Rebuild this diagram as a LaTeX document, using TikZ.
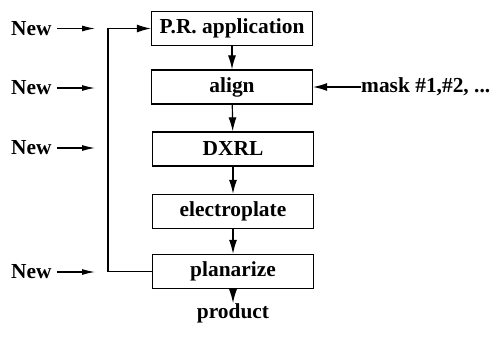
\documentclass[tikz,border=0pt]{standalone}
\usepackage{fontspec}
\setmainfont{Liberation Serif}
\usetikzlibrary{arrows.meta}
\begin{document}
\begin{tikzpicture}[x=1pt,y=-1pt,
  every node/.style={font=\fontsize{21.4}{24}\selectfont\bfseries},
  stepbox/.style={draw,line width=1.3pt,minimum width=161pt,minimum height=34pt,inner sep=0pt},
  flow/.style={line width=1.2pt,-{Latex[length=14pt,width=8pt]}},
  newarr/.style={line width=1.1pt,-{Latex[length=13pt,width=6pt]}},
  lbl/.style={inner sep=0pt,anchor=base west}]
\useasboundingbox (0,0) rectangle (493,338);
\node[stepbox] (pr) at (232,28.5) {P.R. application};
\node[stepbox] (al) at (232,87) {align};
\node[stepbox] (dx) at (233,149) {DXRL};
\node[stepbox] (el) at (233,211.5) {electroplate};
\node[stepbox] (pl) at (233,271.5) {planarize};
\node[inner sep=0pt] (prod) at (233,313) {product};
\draw[flow] (pr) -- (al);
\draw[flow] (al) -- (dx);
\draw[flow] (dx) -- (el);
\draw[flow] (el) -- (pl);
\draw[flow] (pl) -- (prod);
% feedback loop
\coordinate (fb1) at (108,271.5);
\coordinate (fb2) at (108,28.5);
\draw[flow] (pl.west) -- (fb1) -- (fb2) -- (pr.west);
% mask
\node[lbl,anchor=west] (mask) at (361,87) {mask \#1,\#2, ...};
\draw[flow] (mask.west) -- (al.east);
% New labels
\foreach \n/\y in {n1/28.5,n2/88,n3/148,n4/272}{
  \node[inner sep=0pt,anchor=west] (\n) at (11,\y) {New};
  \coordinate (\n a) at (95,\y);
  \draw[newarr] ([xshift=5pt]\n.east) -- (\n a);
}
\end{tikzpicture}
\end{document}
